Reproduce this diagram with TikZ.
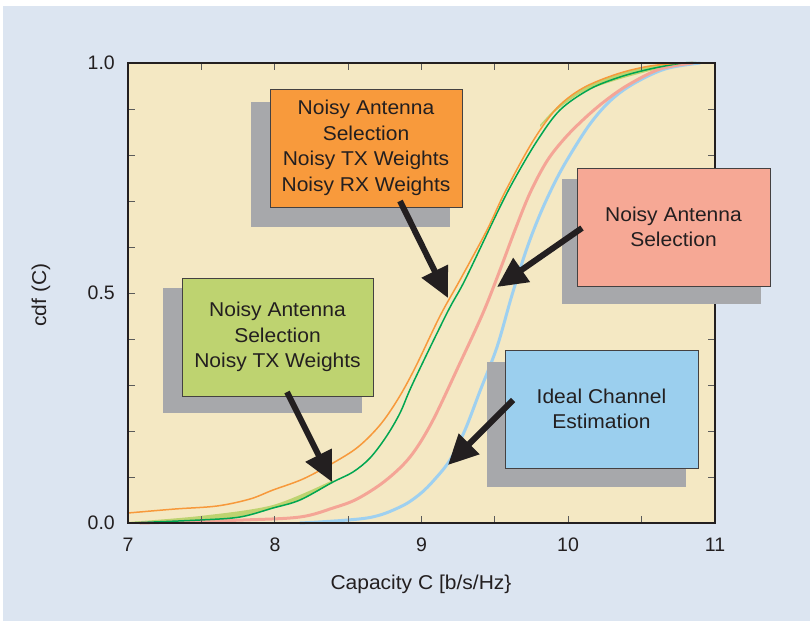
\documentclass[tikz,border=0pt]{standalone}
\usepackage{fontspec}
\setmainfont{Liberation Sans}
\newfontfamily\wfont[FakeStretch=1.05]{Liberation Sans}
\usetikzlibrary{arrows.meta}
\definecolor{bgblue}{HTML}{DCE5F1}
\definecolor{plotbg}{HTML}{F4E8C3}
\definecolor{obox}{HTML}{F89A3C}
\definecolor{pbox}{HTML}{F6A895}
\definecolor{gbox}{HTML}{BED370}
\definecolor{bbox}{HTML}{9BCFEE}
\definecolor{shad}{HTML}{A7A8AB}
\definecolor{ocur}{HTML}{F7993B}
\definecolor{gcur}{HTML}{00A651}
\definecolor{pcur}{HTML}{F4A596}
\definecolor{bcur}{HTML}{9ED0F0}
\definecolor{txt}{HTML}{231F20}
\definecolor{tick}{HTML}{5A5A5A}
\tikzset{
  boxnode/.style={draw=txt!85, line width=0.8pt, minimum width=#1, minimum height=118pt, inner sep=0pt, align=center, text=txt, font=\wfont\fontsize{20}{25.5}\selectfont},
  shadnode/.style={fill=shad, inner sep=0pt, minimum width=199pt, minimum height=125pt},
  arr/.style={draw=txt, line width=6pt, -{Triangle[length=30pt,width=28pt]}},
  ticklab/.style={text=txt, inner sep=0pt, font=\fontsize{19.5}{20}\selectfont},
  axlab/.style={text=txt, inner sep=0pt, font=\wfont\fontsize{20}{22}\selectfont},
  tickln/.style={draw=tick, line width=1pt},
  curve/.style={line join=round, line cap=round}
}
\begin{document}
\begin{tikzpicture}[x=1pt,y=-1pt]
\useasboundingbox (0,0) rectangle (810,621);
\fill[white] (0,0) rectangle (810,621);
\fill[bgblue] (3,6) rectangle (810,621);
\fill[plotbg] (128,63) rectangle (715,523);
% light green bands
\fill[gbox] plot[smooth, tension=0.5] coordinates {(128,523) (200,520) (240,517) (273,508) (300,500) (333,482)}
  -- plot[smooth, tension=0.5] coordinates {(333,480) (273,505) (200,516) (128,522)} -- cycle;
\fill[gbox] plot[smooth, tension=0.5] coordinates {(540,125) (557,107) (583,88) (617,74) (650,66) (683,63)}
  -- plot[smooth, tension=0.5] coordinates {(683,64) (650,71) (617,80) (583,92) (557,110) (540,127)} -- cycle;
% curves
\draw[curve, bcur, line width=3pt] plot[smooth, tension=0.55] coordinates {(300,523) (367,518) (400,507) (420,494) (435,479) (450,460) (465,430) (480,391) (497,347) (512,295) (527,248) (541,212) (556,180) (570,155) (590,124) (610,101) (633,84) (665,69) (700,63)};
\draw[curve, pcur, line width=3pt] plot[smooth, tension=0.55] coordinates {(140,523) (243,520) (300,517) (333,508) (357,499) (385,481) (410,457) (432,422) (460,363) (483,313) (500,270) (515,230) (530,193) (547,161) (565,138) (585,118) (605,101) (628,85) (660,69) (693,63)};
\draw[curve, gcur, line width=1.5pt] plot[smooth, tension=0.55] coordinates {(128,523) (200,520) (240,517) (273,508) (300,500) (333,482) (353,472) (370,458) (386,437) (400,413) (413,383) (447,313) (465,280) (497,213) (514,180) (537,141) (560,110) (590,89) (620,77) (650,69) (683,63) (700,63)};
\draw[curve, ocur, line width=1.5pt] plot[smooth, tension=0.55] coordinates {(128,513) (175,509) (217,506) (250,499) (273,490) (303,479) (333,463) (358,447) (380,425) (398,399) (415,368) (440,316) (460,280) (487,230) (505,192) (533,141) (557,108) (583,88) (617,74) (650,66) (683,63) (700,63)};
% ticks
\foreach \k in {1,...,7} {
  \draw[tickln] ({128+73.375*\k},523) -- ++(0,-7);
  \draw[tickln] ({128+73.375*\k},63) -- ++(0,7);
}
\foreach \k in {1,...,9} {
  \draw[tickln] (128,{523-46*\k}) -- ++(7,0);
  \draw[tickln] (715,{523-46*\k}) -- ++(-7,0);
}
\draw[txt, line width=1.5pt] (128,63) rectangle (715,523);
% tick labels
\node[ticklab, anchor=east] (y0) at (115,523) {0.0};
\node[ticklab, anchor=east] (y5) at (115,293) {0.5};
\node[ticklab, anchor=east] (y10) at (115,63) {1.0};
\node[ticklab] (x7) at (128,545) {7};
\node[ticklab] (x8) at (275,545) {8};
\node[ticklab] (x9) at (421.5,545) {9};
\node[ticklab] (x10) at (568,545) {10};
\node[ticklab] (x11) at (715,545) {11};
\node[axlab, rotate=90] (ylab) at (41,295) {cdf (C)};
\node[axlab] (xlab) at (421,584) {Capacity C [b/s/Hz\}};
% boxes with shadows
\node[shadnode] (os) at (350.5,164.5) {};
\node[boxnode=192pt, fill=obox] (ob) at (366,148) {Noisy Antenna\\Selection\\Noisy TX Weights\\Noisy RX Weights};
\node[shadnode] (ps) at (661.5,241.5) {};
\node[boxnode=193pt, fill=pbox] (pb) at (673.5,227) {Noisy Antenna\\Selection};
\node[shadnode] (gs) at (262.5,350.5) {};
\node[boxnode=191pt, fill=gbox] (gb) at (277.5,337) {Noisy Antenna\\Selection\\Noisy TX Weights};
\node[shadnode] (bs) at (586.5,424.5) {};
\node[boxnode=193pt, fill=bbox] (bb) at (601.5,409) {Ideal Channel\\Estimation};
% arrows
\coordinate (oa1) at (400,201);
\coordinate (oa2) at (448,298);
\coordinate (pa1) at (582,228);
\coordinate (pa2) at (497,287);
\coordinate (ga1) at (287,392);
\coordinate (ga2) at (332,482);
\coordinate (ba1) at (513,400);
\coordinate (ba2) at (448,465);
\draw[arr] (oa1) -- (oa2);
\draw[arr] (pa1) -- (pa2);
\draw[arr] (ga1) -- (ga2);
\draw[arr] (ba1) -- (ba2);
\end{tikzpicture}
\end{document}
